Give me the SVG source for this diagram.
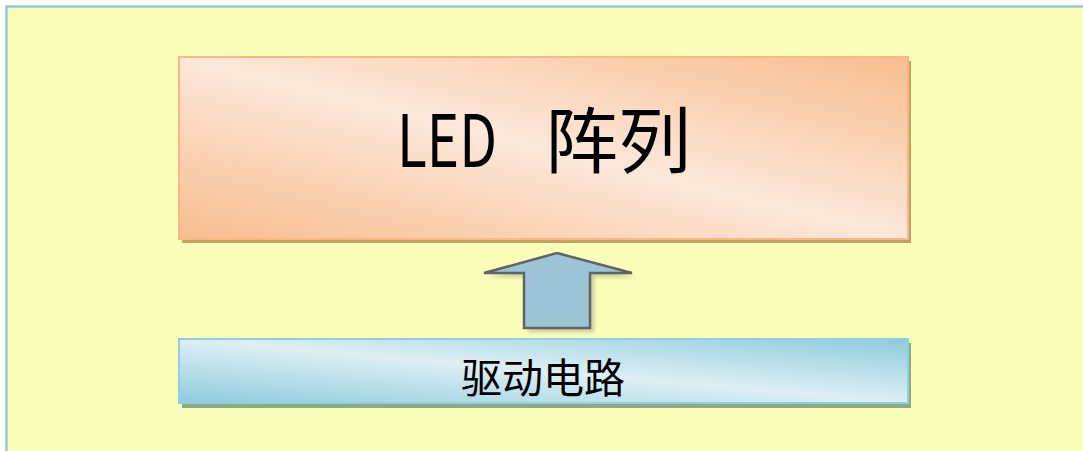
<svg xmlns="http://www.w3.org/2000/svg" width="1083" height="451" viewBox="0 0 1083 451">
  <defs>
    <linearGradient id="gPeach" x1="0" y1="1" x2="1" y2="0">
      <stop offset="0" stop-color="#f8bd8e"/>
      <stop offset="0.5" stop-color="#fde8da"/>
      <stop offset="1" stop-color="#f8bd8e"/>
    </linearGradient>
    <linearGradient id="gBlue" x1="0" y1="1" x2="1" y2="0">
      <stop offset="0" stop-color="#8ecbdd"/>
      <stop offset="0.5" stop-color="#ddeff4"/>
      <stop offset="1" stop-color="#8ecbdd"/>
    </linearGradient>
    <filter id="blur" x="-20%" y="-20%" width="140%" height="140%">
      <feGaussianBlur stdDeviation="2"/>
    </filter>
  </defs>
  <style>
    .cjk { font-family: "Noto Sans CJK SC", "Noto Sans", sans-serif; fill: #000; }
  </style>
  <rect x="0" y="0" width="1083" height="451" fill="#ffffff"/>
  <rect x="6.5" y="6.5" width="1100" height="500" fill="#fafeb9" stroke="#8ecde0" stroke-width="2.5"/>

  <g id="led-array">
    <rect x="182" y="61" width="729" height="182" fill="#c9a062"/>
    <rect x="179" y="57" width="729" height="182" fill="url(#gPeach)" stroke="#f8b888" stroke-width="2"/>
    <text class="cjk" x="397" y="167" font-size="72" textLength="100" lengthAdjust="spacingAndGlyphs">LED</text>
    <text class="cjk" x="545" y="167" font-size="72" textLength="146" lengthAdjust="spacingAndGlyphs">阵列</text>
  </g>

  <g id="connectors">
    <polygon points="561,257 636,277 594,277 594,332 528,332 528,277 488,277" fill="#bcbc90" filter="url(#blur)" opacity="0.8"/>
    <polygon points="557,253 632,273 590,273 590,328 524,328 524,273 484,273" fill="#9cc4d4" stroke="#606468" stroke-width="2.5" stroke-linejoin="miter"/>
  </g>

  <g id="driver">
    <rect x="182" y="343" width="729" height="65" fill="#8aaa8a"/>
    <rect x="179" y="339" width="729" height="64" fill="url(#gBlue)" stroke="#90cfe0" stroke-width="2"/>
    <text class="cjk" x="543" y="393" font-size="41" text-anchor="middle">驱动电路</text>
  </g>
</svg>
